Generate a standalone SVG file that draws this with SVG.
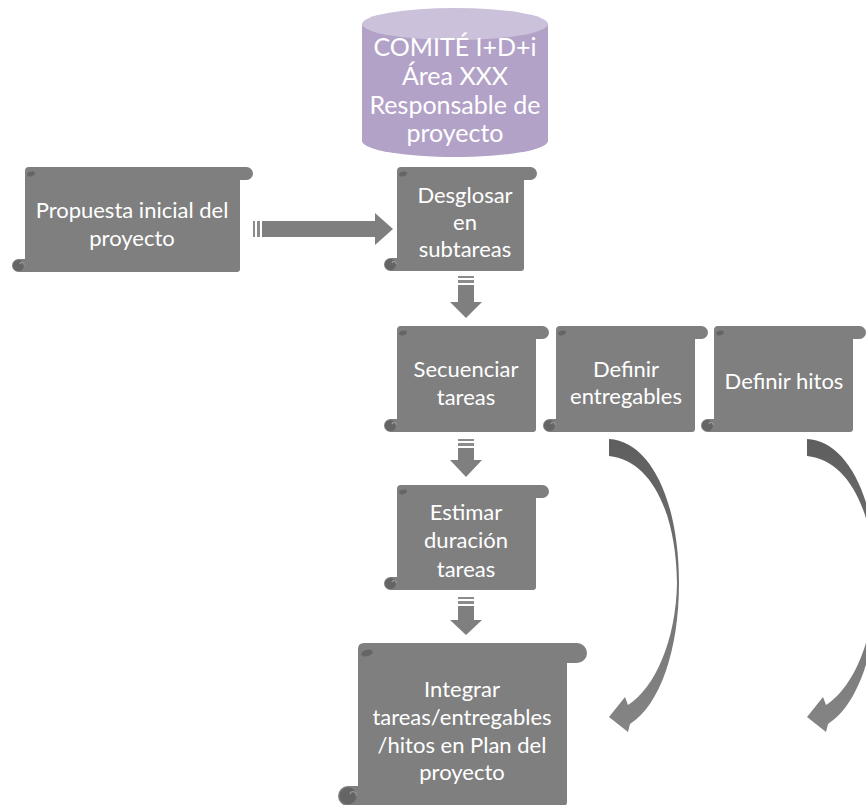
<svg xmlns="http://www.w3.org/2000/svg" width="866" height="805" viewBox="0 0 866 805">
  <defs>
    <style>
      .scroll { fill: #7f7f7f; }
      .curl { fill: #656565; }
      .curl-hi { fill: none; stroke: #9a9a9a; stroke-width: 1.2; }
      .lbl { font-family: Lato, "Open Sans", "DejaVu Sans", sans-serif; font-size: 22px; fill: #ffffff; text-anchor: middle; }
      .clbl { font-family: Lato, "Open Sans", "DejaVu Sans", sans-serif; font-size: 25px; fill: #ffffff; text-anchor: middle; }
      .arrow { fill: #7f7f7f; }
      .stripe { fill: #8c8c8c; }
    </style>
    <linearGradient id="bend" x1="0" y1="0" x2="0" y2="1">
      <stop offset="0" stop-color="#5e5e5e"/>
      <stop offset="0.5" stop-color="#737373"/>
      <stop offset="1" stop-color="#858585"/>
    </linearGradient>
  </defs>

  <!-- committee cylinder -->
  <g id="comite">
    <path d="M362,24 V141 A93,16 0 0 0 548,141 V24 Z" fill="#b3a2c7"/>
    <ellipse cx="455" cy="24" rx="93" ry="16" fill="#ccc1da"/>
    <text class="clbl" x="455" y="56">COMITÉ I+D+i</text>
    <text class="clbl" x="455" y="85">Área XXX</text>
    <text class="clbl" x="455" y="114">Responsable de</text>
    <text class="clbl" x="455" y="142">proyecto</text>
  </g>

  <!-- scroll: L=25 R=240 T=167 B=272 s=13 -->
  <g id="propuesta">
    <path class="scroll" d="M25,171 Q25,167 29,167 H246.5 A6.5,6.5 0 0 1 246.5,180 H240 V269 Q240,272 237,272 H18.5 A6.5,6.5 0 0 1 18.5,259 H25 Z"/>
    <ellipse class="curl" cx="31" cy="174" rx="4" ry="2.2" transform="rotate(-15 31 174)"/>
    <circle class="curl" cx="18.5" cy="265.5" r="5.5"/>
    <path class="curl-hi" d="M20,264 a2,2 0 0 1 4,1"/>
    <text class="lbl" x="132" y="218">Propuesta inicial del</text>
    <text class="lbl" x="132" y="246">proyecto</text>
  </g>

  <g id="desglosar">
    <path class="scroll" d="M397,171 Q397,167 401,167 H530.5 A6.5,6.5 0 0 1 530.5,180 H524 V268 Q524,271 521,271 H390.5 A6.5,6.5 0 0 1 390.5,258 H397 Z"/>
    <ellipse class="curl" cx="403" cy="174" rx="4" ry="2.2" transform="rotate(-15 403 174)"/>
    <circle class="curl" cx="390.5" cy="264.5" r="5.5"/>
    <path class="curl-hi" d="M392,263 a2,2 0 0 1 4,1"/>
    <text class="lbl" x="465" y="203">Desglosar</text>
    <text class="lbl" x="465" y="230">en</text>
    <text class="lbl" x="465" y="257">subtareas</text>
  </g>

  <g id="secuenciar">
    <path class="scroll" d="M397,330 Q397,326 401,326 H542.5 A6.5,6.5 0 0 1 542.5,339 H536 V429 Q536,432 533,432 H390.5 A6.5,6.5 0 0 1 390.5,419 H397 Z"/>
    <ellipse class="curl" cx="403" cy="333" rx="4" ry="2.2" transform="rotate(-15 403 333)"/>
    <circle class="curl" cx="390.5" cy="425.5" r="5.5"/>
    <path class="curl-hi" d="M392,424 a2,2 0 0 1 4,1"/>
    <text class="lbl" x="466" y="377">Secuenciar</text>
    <text class="lbl" x="466" y="405">tareas</text>
  </g>

  <g id="entregables">
    <path class="scroll" d="M556,330 Q556,326 560,326 H701.5 A6.5,6.5 0 0 1 701.5,339 H695 V429 Q695,432 692,432 H549.5 A6.5,6.5 0 0 1 549.5,419 H556 Z"/>
    <ellipse class="curl" cx="562" cy="333" rx="4" ry="2.2" transform="rotate(-15 562 333)"/>
    <circle class="curl" cx="549.5" cy="425.5" r="5.5"/>
    <path class="curl-hi" d="M551,424 a2,2 0 0 1 4,1"/>
    <text class="lbl" x="626" y="377">Definir</text>
    <text class="lbl" x="626" y="404">entregables</text>
  </g>

  <g id="hitos">
    <path class="scroll" d="M714,330 Q714,326 718,326 H859.5 A6.5,6.5 0 0 1 859.5,339 H853 V429 Q853,432 850,432 H707.5 A6.5,6.5 0 0 1 707.5,419 H714 Z"/>
    <ellipse class="curl" cx="720" cy="333" rx="4" ry="2.2" transform="rotate(-15 720 333)"/>
    <circle class="curl" cx="707.5" cy="425.5" r="5.5"/>
    <path class="curl-hi" d="M709,424 a2,2 0 0 1 4,1"/>
    <text class="lbl" x="784" y="389">Definir hitos</text>
  </g>

  <g id="estimar">
    <path class="scroll" d="M397,489 Q397,485 401,485 H542.5 A6.5,6.5 0 0 1 542.5,498 H536 V587 Q536,590 533,590 H390.5 A6.5,6.5 0 0 1 390.5,577 H397 Z"/>
    <ellipse class="curl" cx="403" cy="492" rx="4" ry="2.2" transform="rotate(-15 403 492)"/>
    <circle class="curl" cx="390.5" cy="583.5" r="5.5"/>
    <path class="curl-hi" d="M392,582 a2,2 0 0 1 4,1"/>
    <text class="lbl" x="466" y="520">Estimar</text>
    <text class="lbl" x="466" y="548">duración</text>
    <text class="lbl" x="466" y="577">tareas</text>
  </g>

  <g id="integrar">
    <path class="scroll" d="M358,649 Q358,643 364,643 H577 A10,10 0 0 1 577,663 H567 V802 Q567,806 563,806 H348 A10,10 0 0 1 348,786 H358 Z"/>
    <ellipse class="curl" cx="367" cy="653" rx="6" ry="3.2" transform="rotate(-15 367 653)"/>
    <circle class="curl" cx="348" cy="796" r="8.5"/>
    <path class="curl-hi" d="M350,794 a3,3 0 0 1 6,1.5"/>
    <text class="lbl" x="462" y="697">Integrar</text>
    <text class="lbl" x="462" y="725">tareas/entregables</text>
    <text class="lbl" x="462" y="753">/hitos en Plan del</text>
    <text class="lbl" x="462" y="780">proyecto</text>
  </g>

  <!-- connectors -->
  <g id="connectors">
    <!-- striped block arrow: propuesta to desglosar -->
    <g id="arrow-right">
      <rect class="stripe" x="253" y="221" width="2" height="16"/>
      <rect class="stripe" x="257" y="221" width="3" height="16"/>
      <path class="arrow" d="M262,221 H375 V213 L393,229 L375,245 V237 H262 Z"/>
    </g>
    <g id="arrow-down-1">
      <rect class="stripe" x="458" y="276" width="16" height="2"/>
      <rect class="stripe" x="458" y="280" width="16" height="3"/>
      <path class="arrow" d="M458,285 V302 H450 L466,318 L482,302 H474 V285 Z"/>
    </g>
    <g id="arrow-down-2">
      <rect class="stripe" x="458" y="439" width="16" height="2"/>
      <rect class="stripe" x="458" y="443" width="16" height="3"/>
      <path class="arrow" d="M458,448 V460 H450 L466,477 L482,460 H474 V448 Z"/>
    </g>
    <g id="arrow-down-3">
      <rect class="stripe" x="458" y="597" width="16" height="2"/>
      <rect class="stripe" x="458" y="601" width="16" height="3"/>
      <path class="arrow" d="M458,606 V620 H450 L466,635 L482,620 H474 V606 Z"/>
    </g>
    <!-- curved arrows down to the plan -->
    <path id="bend-entregables" fill="url(#bend)" d="M609,439 C650,441 679,500 679,583 C679,650 660,705 630,724 L628,732 L609,717 L625,697 L628,705 C655,688 676,640 677,583 C676,510 650,460 609,456 Z"/>
    <path id="bend-hitos" fill="url(#bend)" transform="translate(198 0)" d="M609,439 C650,441 679,500 679,583 C679,650 660,705 630,724 L628,732 L609,717 L625,697 L628,705 C655,688 676,640 677,583 C676,510 650,460 609,456 Z"/>
  </g>
</svg>
